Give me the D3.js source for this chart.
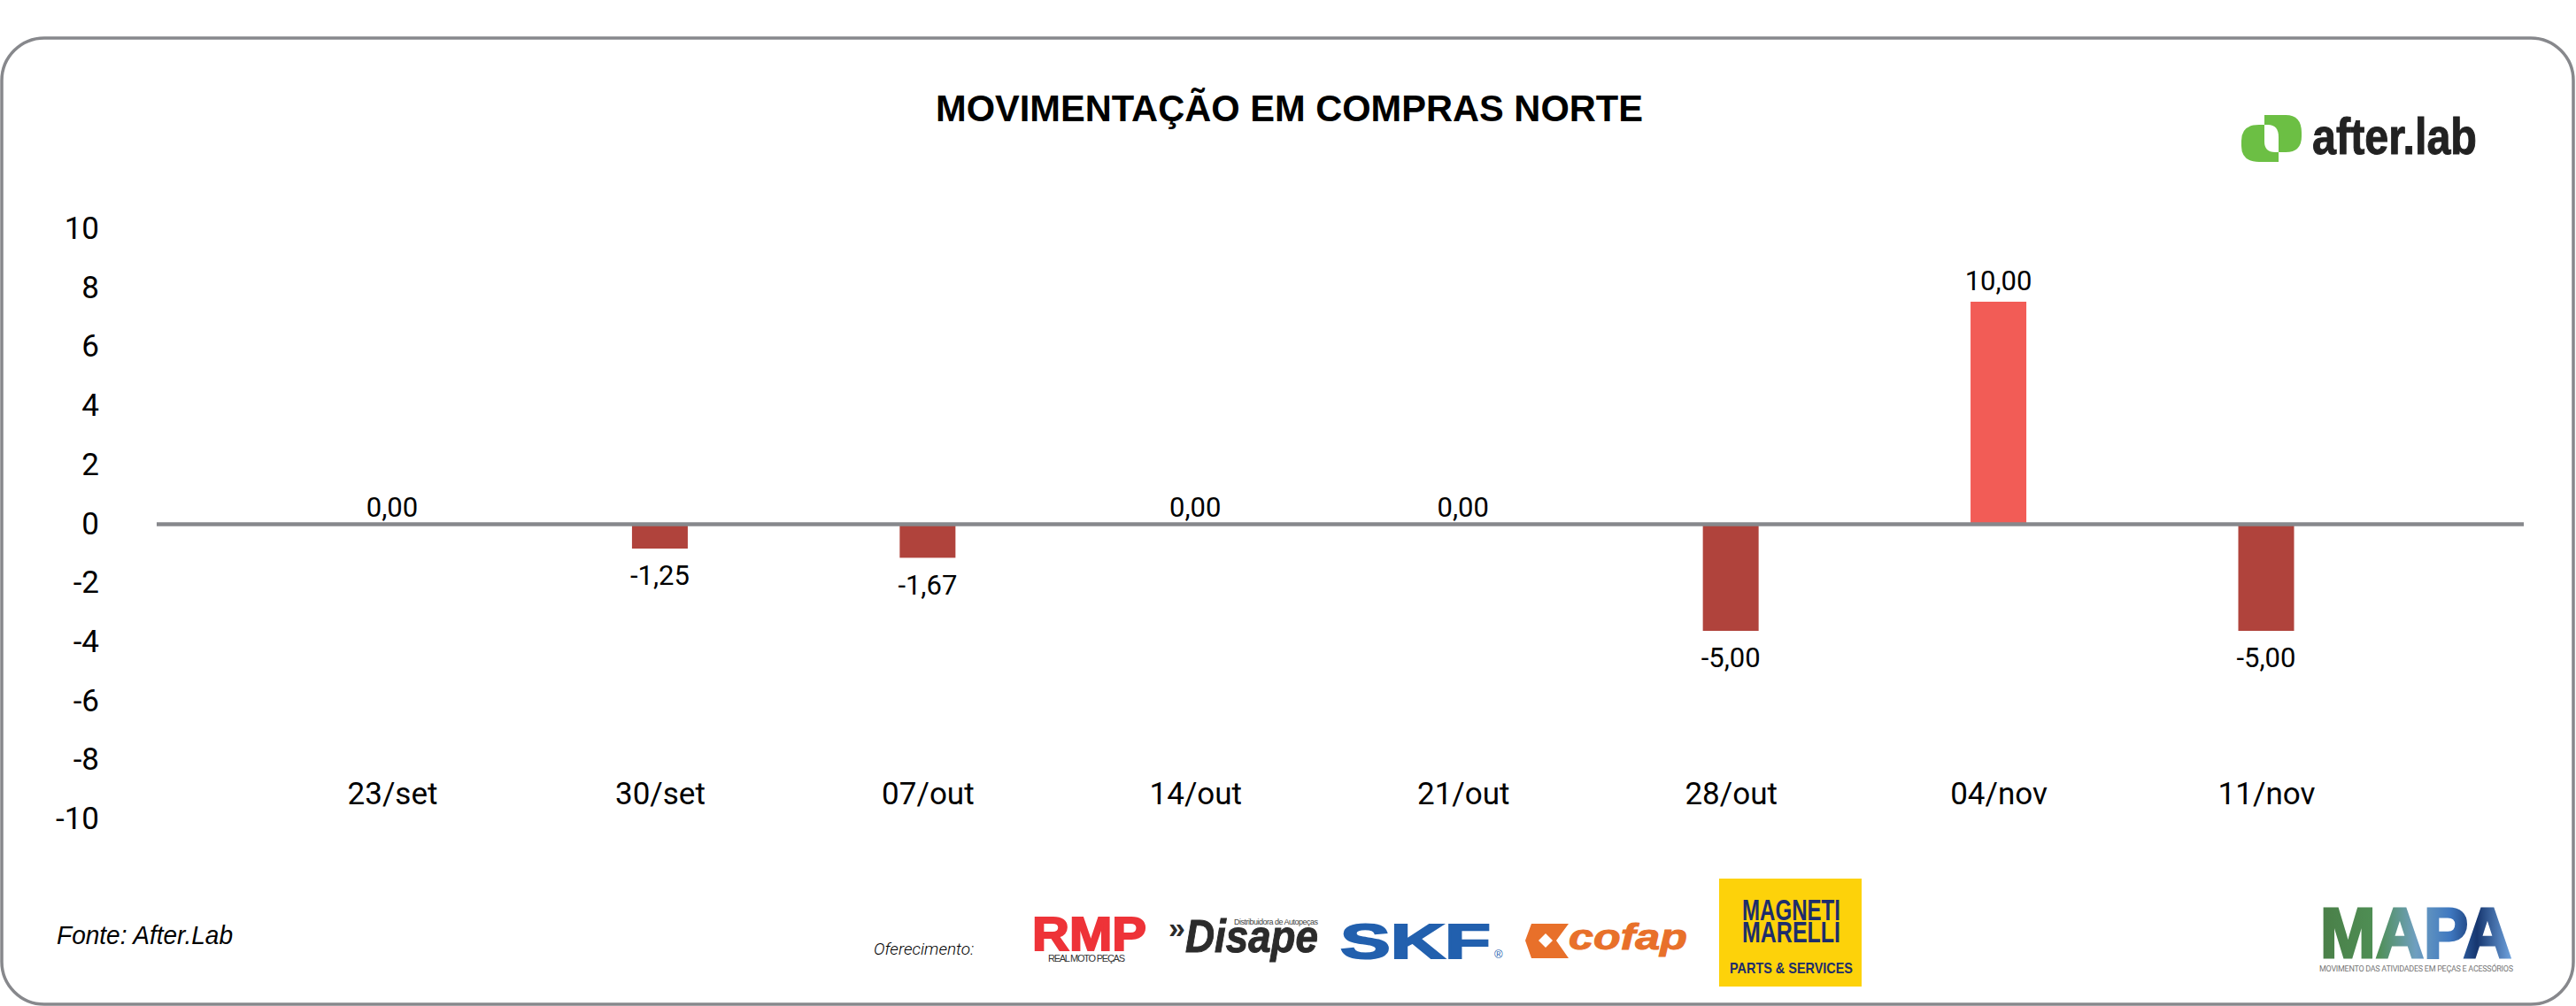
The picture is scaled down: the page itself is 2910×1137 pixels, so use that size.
<!DOCTYPE html>
<html lang="pt-BR"><head><meta charset="utf-8">
<script src="https://cdn.jsdelivr.net/npm/d3@7"></script>
<style>html,body{margin:0;padding:0;background:#fff}svg{display:block}text{fill:#000}</style>
</head><body><svg id="c" width="2910" height="1137"></svg>
<script>
const categories = ["23/set","30/set","07/out","14/out","21/out","28/out","04/nov","11/nov"];
const values = [0, -1.25, -1.67, 0, 0, -5, 10, -5];
const axisTicks = [10, 8, 6, 4, 2, 0, -2, -4, -6, -8, -10];
const title = "MOVIMENTAÇÃO EM COMPRAS NORTE";
const source = "Fonte: After.Lab";
const sponsorLabel = "Oferecimento:";

const svg = d3.select("#c");
const FONT = "Roboto, sans-serif", SANS = "'Liberation Sans', Arial, sans-serif", NARROW = "'Liberation Sans Narrow','Liberation Sans',sans-serif";
const txt = (s,x,y,o={}) => { const t = svg.append("text").text(s).attr("x",x).attr("y",y);
  Object.entries(o).forEach(([k,v])=>{ if(k==="fill") t.style("fill",v); else t.attr(k,v); }); return t; };

// frame
svg.append("rect").attr("x",2).attr("y",43).attr("width",2905).attr("height",1092).attr("rx",48).attr("ry",48)
  .attr("fill","#fff").attr("stroke","#87888c").attr("stroke-width",3.5);

txt(title,1057,137,{"font-family":SANS,"font-weight":700,"font-size":43,textLength:799,lengthAdjust:"spacingAndGlyphs"});

// scales: the printed axis and the bars use different vertical scales in the reference
const x = d3.scalePoint().domain(categories).range([443,2560]);
const yAxisScale = d3.scaleLinear().domain([-10,10]).range([926,259]);
const yBars = d3.scaleLinear().domain([-10,10]).range([837,341]);
const barW = 63;

// y axis
const gy = svg.append("g").attr("transform","translate(112,0)")
  .call(d3.axisLeft(yAxisScale).tickValues(axisTicks).tickFormat(d=>String(d)).tickSize(0).tickPadding(0));
gy.select(".domain").remove();
gy.selectAll("text").attr("font-family",FONT).attr("font-weight",400).attr("font-size",35).attr("dy","0.3em");

// bars
const zero = yAxisScale(0);
svg.append("g").selectAll("rect").data(values.map((v,i)=>({v,c:categories[i]})).filter(d=>d.v!==0)).join("rect")
  .attr("x",d=>x(d.c)-barW/2).attr("width",barW)
  .attr("y",d=>d.v>0?yBars(d.v):zero)
  .attr("height",d=>d.v>0?zero-yBars(d.v):yBars(d.v)-zero)
  .attr("fill",d=>d.v>0?"#f25c56":"#b0433c");

// zero line
svg.append("line").attr("x1",177).attr("x2",2851).attr("y1",zero).attr("y2",zero).attr("stroke","#87888c").attr("stroke-width",4.5);

// value labels
svg.append("g").selectAll("text").data(values.map((v,i)=>({v,c:categories[i]}))).join("text")
  .text(d=>d.v.toFixed(2).replace(".",","))
  .attr("x",d=>x(d.c)).attr("y",d=>yBars(d.v)+(d.v>0?-23:d.v===0?-15:31))
  .attr("dy","0.33em").attr("text-anchor","middle").attr("font-family",FONT).attr("font-weight",400).attr("font-size",31);

// category labels
const gx = svg.append("g").attr("transform","translate(0,884)")
  .call(d3.axisBottom(x).tickSize(0).tickPadding(0));
gx.select(".domain").remove();
gx.selectAll("text").attr("font-family",FONT).attr("font-weight",400).attr("font-size",35).attr("dy","0.71em").attr("y",0);

// source + sponsor label
txt(source,64,1067,{"font-family":SANS,"font-style":"italic","font-size":29,textLength:199,lengthAdjust:"spacingAndGlyphs"});
txt(sponsorLabel,987,1079,{"font-family":FONT,"font-style":"italic","font-weight":300,"font-size":19});

// after.lab logo
const G="#6cbf44";
svg.append("path").attr("fill",G).attr("d","M2574 183H2552Q2532 183 2532 165V159Q2532 141 2552 141H2574Z");
svg.append("path").attr("fill",G).attr("d","M2558 130H2582Q2600 130 2600 150V154Q2600 172 2582 172H2558Z");
svg.append("path").attr("fill","#fff").attr("d","M2558 141H2562Q2574 141 2574 155V172H2570Q2558 172 2558 160Z");
txt("after.lab",2612,174,{"font-family":SANS,"font-weight":700,"font-size":57,textLength:186,lengthAdjust:"spacingAndGlyphs",fill:"#222",stroke:"#222","stroke-width":1});

// sponsor logos
txt("RMP",1166,1074,{"font-family":SANS,"font-weight":700,"font-size":53,textLength:129,lengthAdjust:"spacingAndGlyphs",fill:"#ee3338",stroke:"#ee3338","stroke-width":2});
txt("REAL MOTO PEÇAS",1184,1087,{"font-family":NARROW,"font-size":11,textLength:87,fill:"#333"});
txt("»",1320,1060,{"font-family":SANS,"font-weight":700,"font-size":34,fill:"#2b2b2b"});
txt("Disape",1339,1076,{"font-family":SANS,"font-weight":700,"font-style":"italic","font-size":52,textLength:150,lengthAdjust:"spacingAndGlyphs",fill:"#2b2b2b",stroke:"#2b2b2b","stroke-width":1});
txt("Distribuidora de Autopeças",1394,1045,{"font-family":NARROW,"font-size":9,textLength:95,fill:"#444"});
txt("SKF",1514,1083,{"font-family":SANS,"font-weight":700,"font-size":56,textLength:170,lengthAdjust:"spacingAndGlyphs",fill:"#2260ae",stroke:"#2260ae","stroke-width":2});
txt("®",1688,1083,{"font-family":SANS,"font-size":13,fill:"#2260ae"});
const O="#e8702a";
svg.append("path").attr("fill",O).attr("fill-rule","evenodd").attr("d","M1730 1044H1772L1758 1063L1772 1083H1730L1723 1063ZM1746 1055L1738 1063L1746 1071L1754 1063Z");
txt("cofap",1772,1073,{"font-family":SANS,"font-weight":700,"font-style":"italic","font-size":40,textLength:134,lengthAdjust:"spacingAndGlyphs",fill:O,stroke:O,"stroke-width":1});
svg.append("rect").attr("x",1942).attr("y",993).attr("width",161).attr("height",122).attr("fill","#fdd20a");
const N="#1d2d6b";
txt("MAGNETI",1968,1040,{"font-family":NARROW,"font-weight":700,"font-size":34,textLength:111,lengthAdjust:"spacingAndGlyphs",fill:N});
txt("MARELLI",1968,1065,{"font-family":NARROW,"font-weight":700,"font-size":34,textLength:111,lengthAdjust:"spacingAndGlyphs",fill:N});
txt("PARTS & SERVICES",1954,1100,{"font-family":NARROW,"font-weight":700,"font-size":17,textLength:139,lengthAdjust:"spacingAndGlyphs",fill:N});

// MAPA logo
const grad = svg.append("defs").append("linearGradient").attr("id","mapa");
[[0,"#4a7f48"],[0.3,"#4f8f55"],[0.5,"#6f9fc0"],[0.68,"#3f78c0"],[0.82,"#16366f"],[1,"#6fa3de"]].forEach(([o,c])=>grad.append("stop").attr("offset",o).attr("stop-color",c));
svg.append("text").text("MAPA").attr("x",2621).attr("y",1082).attr("font-family",SANS).attr("font-weight",700).attr("font-size",80)
  .attr("textLength",216).attr("lengthAdjust","spacingAndGlyphs").style("fill","url(#mapa)").style("stroke","url(#mapa)").style("stroke-width",3);
txt("MOVIMENTO DAS ATIVIDADES EM PEÇAS E ACESSÓRIOS",2620,1098,{"font-family":FONT,"font-size":9,textLength:219,fill:"#777"});
</script></body></html>
